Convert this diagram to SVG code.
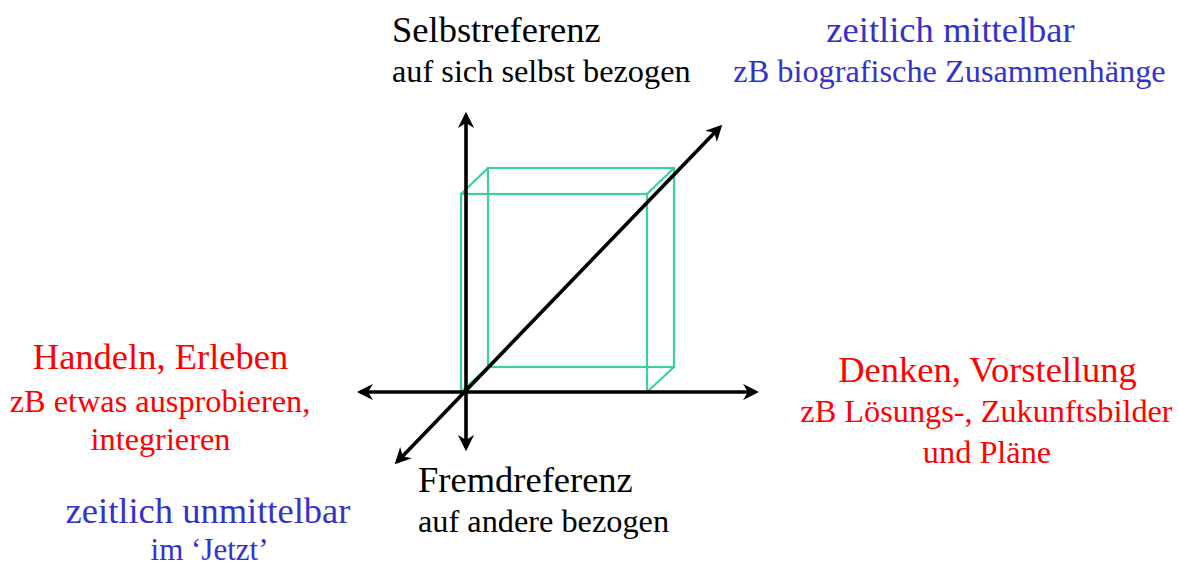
<svg xmlns="http://www.w3.org/2000/svg" width="1179" height="568" viewBox="0 0 1179 568">
<style>
text{font-family:"Liberation Serif","Times New Roman",serif}
.big{font-size:36.5px}
.small{font-size:32.3px}
.k{fill:#000}
.b{fill:#3333cc}
.r{fill:#ff0000}
.c{text-anchor:middle}
.axis{stroke:#000;stroke-width:3.6;fill:none}
.cube{stroke:#3ccfa0;stroke-width:2.2;fill:none}
</style>
<defs>
<marker id="ah" viewBox="0 0 10 10" refX="8" refY="5" markerWidth="4.5" markerHeight="4.5" orient="auto-start-reverse" markerUnits="strokeWidth">
<path d="M0,0 L10,5 L0,10 L3,5 Z" fill="#000"/>
</marker>
</defs>
<g id="cube">
<rect class="cube" x="461" y="194" width="186" height="198"/>
<rect class="cube" x="488" y="168" width="186" height="199"/>
<path class="cube" d="M461,194 L488,168 M647,194 L674,168 M647,392 L674,367 M461,392 L488,367"/>
</g>
<g id="connectors">
<line class="axis" x1="466" y1="448" x2="466" y2="115" marker-start="url(#ah)" marker-end="url(#ah)"/>
<line class="axis" x1="360" y1="392" x2="756" y2="392" marker-start="url(#ah)" marker-end="url(#ah)"/>
<line class="axis" x1="397" y1="462" x2="720" y2="127" marker-start="url(#ah)" marker-end="url(#ah)"/>
</g>
<g id="selbstreferenz">
<text class="big k" x="392" y="42">Selbstreferenz</text>
<text class="small k" x="392" y="82">auf sich selbst bezogen</text>
</g>
<g id="mittelbar">
<text class="big b c" x="950.5" y="42">zeitlich mittelbar</text>
<text class="small b c" x="949.5" y="82">zB biografische Zusammenhänge</text>
</g>
<g id="handeln">
<text class="big r c" x="160.5" y="369">Handeln, Erleben</text>
<text class="small r c" x="160" y="412">zB etwas ausprobieren,</text>
<text class="small r c" x="160.5" y="450">integrieren</text>
</g>
<g id="denken">
<text class="big r c" x="987.5" y="382">Denken, Vorstellung</text>
<text class="small r c" x="986.5" y="422">zB Lösungs-, Zukunftsbilder</text>
<text class="small r c" x="987" y="463">und Pläne</text>
</g>
<g id="fremdreferenz">
<text class="big k" x="418" y="492">Fremdreferenz</text>
<text class="small k" x="418" y="532">auf andere bezogen</text>
</g>
<g id="unmittelbar">
<text class="big b c" x="208" y="523">zeitlich unmittelbar</text>
<text class="b c" x="209.5" y="560" style="font-size:31px">im ‘Jetzt’</text>
</g>
</svg>
